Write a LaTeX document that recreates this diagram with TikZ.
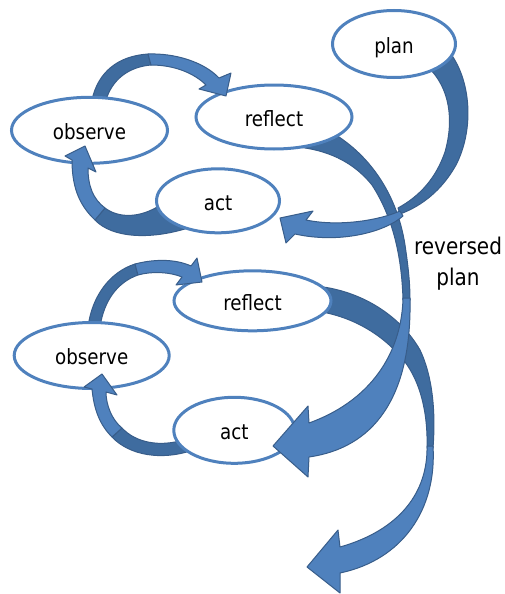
\documentclass[tikz,border=0pt]{standalone}
\usepackage{fontspec}
\setmainfont{DejaVu Sans}[FakeStretch=0.87]
\usetikzlibrary{shapes.geometric}
\definecolor{ringBlue}{HTML}{4F81BD}
\definecolor{ribbonFront}{HTML}{4F81BD}
\definecolor{ribbonBack}{HTML}{3F6C9F}
\definecolor{ribbonEdge}{HTML}{385D8A}

\begin{document}
\begin{tikzpicture}[x=1pt, y=-1pt,
    stage/.style={ellipse, draw=ringBlue, line width=3pt, fill=white, inner sep=0pt,
        text height=18.5pt, text depth=0pt, font=\fontsize{21}{25}\selectfont},
    front/.style={fill=ribbonFront, draw=ribbonEdge, line width=1pt, line join=round},
    back/.style={fill=ribbonBack, draw=ribbonEdge, line width=1pt, line join=round}]
    \useasboundingbox (0,0) rectangle (504,594);

    % back of the ribbons, tails hidden under the ellipses
    \draw[back] (315,286) .. controls (360,290) and (400,315) .. (420,350) .. controls (432,375) and (436,410) .. (433,448)
        -- (427,448) .. controls (428,412) and (420,382) .. (405,362) .. controls (385,336) and (355,318) .. (322,312) -- cycle;
    \draw[back] (336,135) .. controls (375,160) and (398,200) .. (405,245) .. controls (408,265) and (410,282) .. (410,300)
        -- (403,300) .. controls (402,265) and (396,222) .. (372,185) .. controls (352,160) and (325,150) .. (298,147) -- cycle;
    \draw[back] (448,50) .. controls (472,80) and (474,130) .. (456,165) .. controls (442,190) and (422,206) .. (400,214)
        -- (398,208) .. controls (420,196) and (436,178) .. (445,152) .. controls (454,120) and (450,88) .. (428,67) -- cycle;
    \draw[back] (92,100) .. controls (98,72) and (118,56) .. (148,54) -- (151,65) .. controls (128,67) and (112,80) .. (106,100) -- cycle;
    \draw[back] (95,220) .. controls (112,238) and (150,240) .. (188,228) -- (162,204) .. controls (140,219) and (118,218) .. (105,208) -- cycle;
    \draw[back] (88,327) .. controls (92,296) and (110,272) .. (135,264) -- (138,275) .. controls (118,282) and (104,300) .. (100,327) -- cycle;
    \draw[back] (112,437) .. controls (130,456) and (162,460) .. (190,451) -- (183,440) .. controls (160,447) and (136,443) .. (122,428) -- cycle;

    \node[stage, minimum width=123pt, minimum height=67pt] (plan) at (394,44) {plan};
    \node[stage, minimum width=156pt, minimum height=64pt] (reflectA) at (274,117) {reflect};
    \node[stage, minimum width=156pt, minimum height=66pt] (observeA) at (89.5,130.3) {observe};
    \node[stage, minimum width=123pt, minimum height=64pt] (actA) at (218,200.8) {act};
    \node[stage, minimum width=157pt, minimum height=60pt] (reflectB) at (252.5,300.8) {reflect};
    \node[stage, minimum width=155pt, minimum height=66pt] (observeB) at (91.7,355.5) {observe};
    \node[stage, minimum width=121pt, minimum height=66pt] (actB) at (234.3,430.3) {act};

    % front of the ribbons with their heads
    \draw[front] (427,446) .. controls (428,492) and (400,530) .. (340,547) -- (338,530) -- (307,567) -- (340,593)
        -- (340,573) .. controls (402,560) and (437,510) .. (433,446) -- cycle;
    \draw[front] (403,298) .. controls (402,345) and (378,398) .. (309,423) -- (308,406) -- (273,446) -- (308,477)
        -- (309,457) .. controls (372,448) and (412,400) .. (410,298) -- cycle;
    \draw[front] (400,211) .. controls (380,220) and (340,227) .. (306,220) -- (313,211) -- (280,218) -- (286,243)
        -- (295,234) .. controls (340,244) and (385,232) .. (403,216) -- cycle;
    \draw[front] (148,54) .. controls (175,53) and (204,62) .. (219,78) -- (231,73) -- (226,96) -- (199,89)
        -- (206,85) .. controls (194,73) and (174,65) .. (151,65) -- cycle;
    \draw[front] (65,156) -- (85,146) -- (96,172) -- (88,168) .. controls (88,186) and (93,199) .. (105,208)
        -- (95,220) .. controls (78,204) and (72,185) .. (72,160) -- cycle;
    \draw[front] (135,264) .. controls (158,258) and (178,260) .. (191,266) -- (197,258) -- (202,282) -- (176,285)
        -- (182,277) .. controls (170,272) and (152,271) .. (138,275) -- cycle;
    \draw[front] (84,387) -- (102,374) -- (117,395) -- (106,392) .. controls (106,405) and (112,420) .. (122,428)
        -- (112,437) .. controls (100,425) and (94,410) .. (92,389) -- cycle;

    \node[align=center, font=\fontsize{23}{31}\selectfont] (reversed) at (458,264) {reversed\\plan};
\end{tikzpicture}
\end{document}
